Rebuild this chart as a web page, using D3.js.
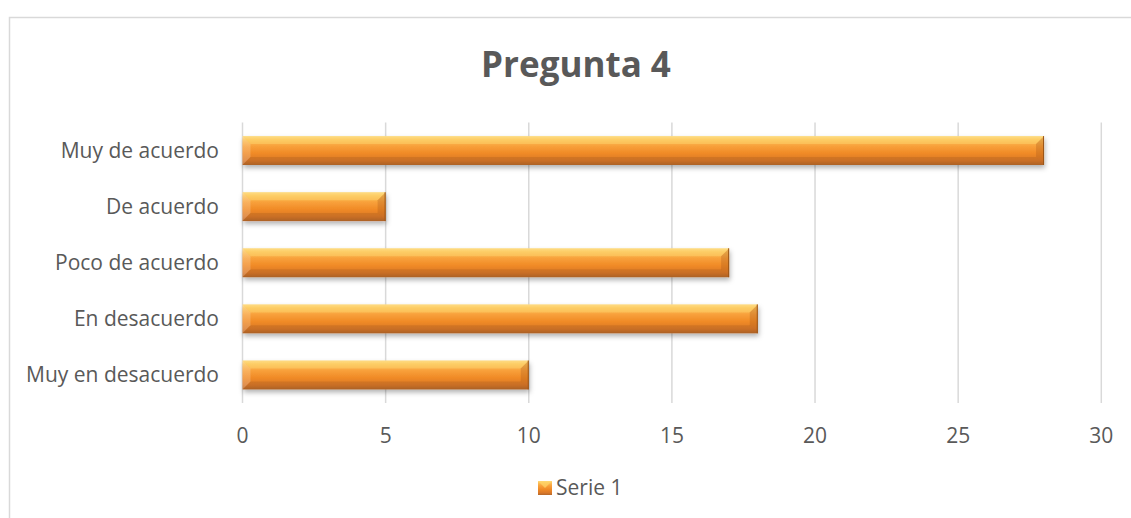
<!DOCTYPE html>
<html><head><meta charset="utf-8">
<script src="https://cdn.jsdelivr.net/npm/d3@7"></script>
<style>body{margin:0;background:#fff}svg{display:block}text{font-family:"Open Sans",sans-serif;fill:#595959}</style>
</head><body><svg id="c" width="1131" height="518"></svg>
<script>
const title = "Pregunta 4";
const categories = ["Muy de acuerdo","De acuerdo","Poco de acuerdo","En desacuerdo","Muy en desacuerdo"];
const values = [28,5,17,18,10];
const xTicks = [0,5,10,15,20,25,30];
const seriesName = "Serie 1";

const svg = d3.select("#c");
svg.append("rect").attr("x",9.5).attr("y",17.5).attr("width",1140).attr("height",520)
  .attr("fill","#fff").attr("stroke","#d9d9d9").attr("stroke-width",1.5);

const defs = svg.append("defs");
const g1 = defs.append("linearGradient").attr("id","bg").attr("x1",0).attr("y1",0).attr("x2",0).attr("y2",1);
[[0,"#fdd98a"],[0.12,"#fcc25a"],[0.35,"#f8a03a"],[0.6,"#f08a26"],[0.85,"#d9782a"],[1,"#b4672a"]]
  .forEach(([o,c])=>g1.append("stop").attr("offset",o).attr("stop-color",c));
const f = defs.append("filter").attr("id","sh").attr("x","-5%").attr("y","-30%").attr("width","110%").attr("height","180%");
f.append("feDropShadow").attr("dx",1).attr("dy",3).attr("stdDeviation",2.5).attr("flood-color","#000").attr("flood-opacity",0.3);

const x = d3.scaleLinear().domain([0,30]).range([242.5,1101.3]);
const y = d3.scaleBand().domain(categories).range([122.5,403]).paddingInner(0.485).paddingOuter(0.2425);

svg.append("g").selectAll("line").data(xTicks).join("line")
  .attr("x1",d=>x(d)).attr("x2",d=>x(d)).attr("y1",122.5).attr("y2",403)
  .attr("stroke","#d9d9d9").attr("stroke-width",1.5);

svg.append("text").attr("x",576).attr("y",77).attr("text-anchor","middle")
  .style("font-size","35px").style("font-weight","bold").text(title);

const bars = svg.append("g").selectAll("g").data(categories).join("g");
bars.each(function(c,i){
  const g = d3.select(this);
  const x0 = x(0), x1 = x(values[i]), y0 = y(c), h = y.bandwidth();
  g.append("rect").attr("x",x0).attr("y",y0).attr("width",x1-x0).attr("height",h)
    .attr("fill","url(#bg)").attr("filter","url(#sh)");
  const b = 8;
  g.append("polygon").attr("points",[[x0,y0],[x0+b,y0+b],[x0+b,y0+h-b],[x0,y0+h]].join(" "))
    .attr("fill","#fff").attr("opacity",0.18);
  g.append("polygon").attr("points",[[x0,y0],[x1,y0],[x1-b,y0+b],[x0+b,y0+b]].join(" "))
    .attr("fill","#ffe27a").attr("opacity",0.35);
  g.append("polygon").attr("points",[[x1,y0],[x1,y0+h],[x1-b,y0+h-b],[x1-b,y0+b]].join(" "))
    .attr("fill","#a85a1a").attr("opacity",0.3);
  g.append("polygon").attr("points",[[x0,y0+h],[x1,y0+h],[x1-b,y0+h-b],[x0+b,y0+h-b]].join(" "))
    .attr("fill","#8a4a14").attr("opacity",0.2);
  g.append("line").attr("x1",x1-0.5).attr("x2",x1-0.5).attr("y1",y0).attr("y2",y0+h)
    .attr("stroke","#9a5518").attr("stroke-width",1);
});

svg.append("g").selectAll("text").data(categories).join("text")
  .attr("x",219).attr("y",d=>y(d)+y.bandwidth()/2).attr("dy","0.35em")
  .attr("text-anchor","end").style("font-size","21px").text(d=>d);

svg.append("g").selectAll("text").data(xTicks).join("text")
  .attr("x",d=>x(d)).attr("y",436).attr("dy","0.35em")
  .attr("text-anchor","middle").style("font-size","21px").text(d=>d);

svg.append("rect").attr("x",538).attr("y",481).attr("width",14).attr("height",14).attr("fill","url(#bg)");
svg.append("polygon").attr("points","538,481 552,481 545,488").attr("fill","#ffd76a").attr("opacity",0.7);
svg.append("text").attr("x",556).attr("y",488).attr("dy","0.35em").style("font-size","21px").text(seriesName);
</script></body></html>
